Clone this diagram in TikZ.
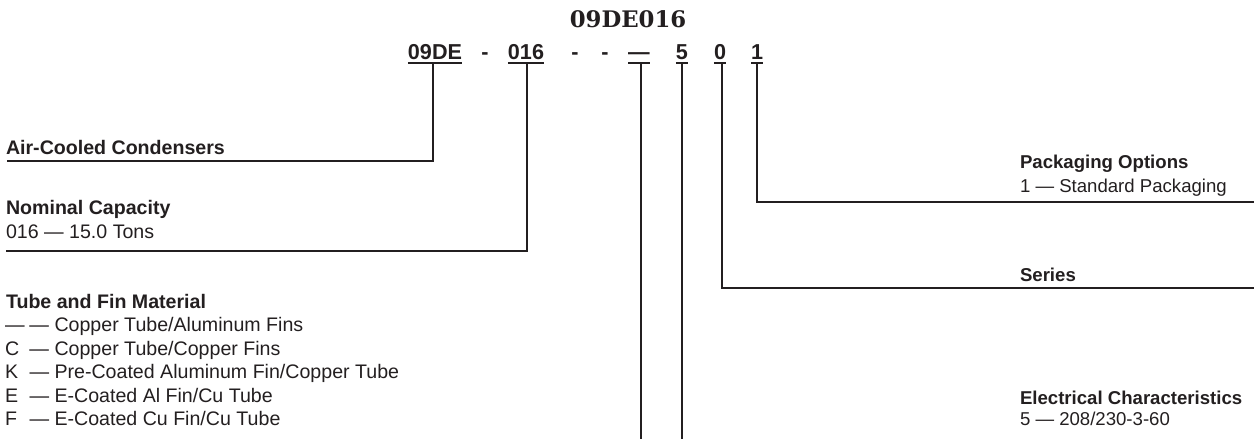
\documentclass[tikz,border=0pt]{standalone}
\usepackage{fontspec}
\setmainfont{Liberation Sans}
\newfontfamily\titlefont{DejaVu Serif}
\definecolor{ink}{HTML}{231F20}
\begin{document}
\begin{tikzpicture}[x=0.5pt,y=-0.5pt,
  every node/.style={inner sep=0pt,outer sep=0pt,text=ink},
  lbl/.style={anchor=base west,font=\fontsize{9.8}{11}\selectfont\bfseries},
  val/.style={anchor=base west,font=\fontsize{9.8}{11}\selectfont},
  rlbl/.style={anchor=base west,font=\fontsize{9.3}{11}\selectfont\bfseries},
  rval/.style={anchor=base west,font=\fontsize{9.3}{11}\selectfont},
  code/.style={anchor=base,font=\fontsize{10.8}{12}\selectfont\bfseries},
  conn/.style={draw=ink,line width=1.05pt},
  uline/.style={draw=ink,line width=0.8pt}]
\useasboundingbox (0,0) rectangle (1254,439);
% title
\node[anchor=base,font=\titlefont\fontsize{11.4}{13}\selectfont\bfseries] (title) at (628,27) {09DE016};
% code row
\node[code] (c1) at (435,59) {09DE};
\node[code] (d1) at (485,59) {-};
\node[code] (c2) at (526,59) {016};
\node[code] (d2) at (575,59) {-};
\node[code] (d3) at (605,59) {-};
\node[code] (c3) at (639,59) {—};
\node[code] (c4) at (682,59) {5};
\node[code] (c5) at (720,59) {0};
\node[code] (c6) at (757,59) {1};
\foreach \n in {c1,c2,c3,c4,c5,c6}{
  \draw[uline] ([yshift=-2pt]\n.south west) -- ([yshift=-2pt]\n.south east);
}
% coordinates on underlines
\coordinate (u1) at (433,63);
\coordinate (u2) at (527,63);
\coordinate (u3) at (641,63);
\coordinate (u4) at (682,63);
\coordinate (u5) at (722,63);
\coordinate (u6) at (757,63);
% left labels
\node[lbl] (air) at (6,154) {Air-Cooled Condensers};
\node[lbl] (nom) at (6,214) {Nominal Capacity};
\node[val] (nomv) at (6,238) {016 — 15.0 Tons};
\node[lbl] (tube) at (6,308) {Tube and Fin Material};
\node[val] (t1) at (5,331) {\makebox[1.25em][l]{—}— Copper Tube/Aluminum Fins};
\node[val] (t2) at (5,355) {\makebox[1.25em][l]{C}— Copper Tube/Copper Fins};
\node[val] (t3) at (5,378) {\makebox[1.25em][l]{K}— Pre-Coated Aluminum Fin/Copper Tube};
\node[val] (t4) at (5,402) {\makebox[1.25em][l]{E}— E-Coated Al Fin/Cu Tube};
\node[val] (t5) at (5,425) {\makebox[1.25em][l]{F}— E-Coated Cu Fin/Cu Tube};
% right labels
\node[rlbl] (pack) at (1020,168) {Packaging Options};
\node[rval] (packv) at (1020,192) {1 — Standard Packaging};
\node[rlbl] (ser) at (1020,281) {Series};
\node[rlbl] (elec) at (1020,404) {Electrical Characteristics};
\node[rval] (elecv) at (1020,425) {5 — 208/230-3-60};
% connector end points
\coordinate (a1) at (7,161);
\coordinate (a2) at (6,251);
\coordinate (a3) at (641,439);
\coordinate (a4) at (682,439);
\coordinate (a5) at (1254,288);
\coordinate (a6) at (1254,202);
% connectors
\draw[conn] (u1) |- (a1);
\draw[conn] (u2) |- (a2);
\draw[conn] (u3) -- (a3);
\draw[conn] (u4) -- (a4);
\draw[conn] (u5) |- (a5);
\draw[conn] (u6) |- (a6);
\end{tikzpicture}
\end{document}
